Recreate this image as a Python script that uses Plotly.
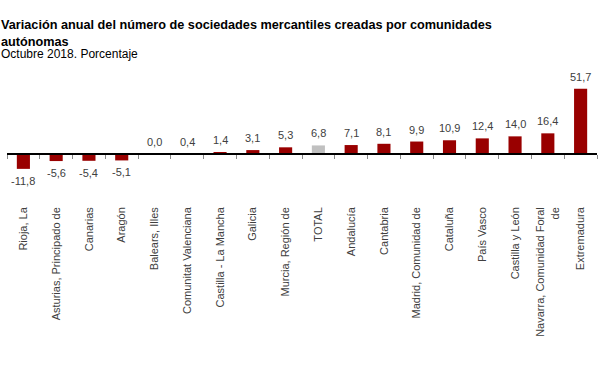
import plotly.graph_objects as go

categories = ["Rioja, La", "Asturias, Principado de", "Canarias", "Aragón", "Balears, Illes",
              "Comunitat Valenciana", "Castilla - La Mancha", "Galicia", "Murcia, Región de",
              "TOTAL", "Andalucía", "Cantabria", "Madrid, Comunidad de", "Cataluña",
              "País Vasco", "Castilla y León", "Navarra, Comunidad Foral<br>de", "Extremadura"]
values = [-11.8, -5.6, -5.4, -5.1, 0.0, 0.4, 1.4, 3.1, 5.3, 6.8, 7.1, 8.1, 9.9, 10.9, 12.4, 14.0, 16.4, 51.7]
labels = [f"{v:.1f}".replace(".", ",") for v in values]
colors = ["#c0c0c0" if c == "TOTAL" else "#990000" for c in categories]

W, H = 599, 381
L, R = 7, 2
top, bottom_px, zero_px = 85, 204, 154
scale = 1.26
ymax = (zero_px - top) / scale
ymin = -(bottom_px - zero_px) / scale
ph = bottom_px - top
pw = W - L - R
xrange_ = [-0.5, len(categories) - 0.5]


def py(px):
    return (bottom_px - px) / ph


def pxx(px):
    return (px - L) / pw


fig = go.Figure()
fig.add_trace(go.Bar(
    x=categories, y=values, marker_color=colors, width=0.4,
    hoverinfo="skip",
))
fig.add_trace(go.Scatter(
    x=categories, y=values, xaxis="x2", yaxis="y", mode="markers",
    marker=dict(opacity=0, size=1), hoverinfo="skip", showlegend=False,
))

for c, v, t in zip(categories, values, labels):
    neg = v < 0
    fig.add_annotation(x=c, y=v, xref="x", yref="y", text=t, showarrow=False,
                       yanchor="top" if neg else "bottom", yshift=-4 if neg else 4,
                       font=dict(family="Liberation Sans, Arial", size=11, color="#404040"))

fig.update_layout(
    template="none",
    width=W, height=H,
    margin=dict(l=L, r=R, t=top, b=H - bottom_px, pad=0),
    paper_bgcolor="white", plot_bgcolor="white",
    showlegend=False, bargap=0.6,
    font=dict(family="Liberation Sans, Arial", color="#404040"),
    xaxis=dict(type="category", categoryorder="array", categoryarray=categories,
               range=xrange_, autorange=False,
               showline=False, ticks="", tickangle=-90, showgrid=False, zeroline=False,
               automargin=False, tickfont=dict(size=11, color="#404040")),
    xaxis2=dict(type="category", categoryorder="array", categoryarray=categories,
                overlaying="x", matches="x", anchor="free", position=py(zero_px),
                showline=True, linecolor="black", linewidth=1.5, automargin=False,
                ticks="outside", tickson="boundaries", ticklen=4, tickcolor="#888888",
                showticklabels=False, showgrid=False, zeroline=False),
    yaxis=dict(range=[ymin, ymax], visible=False, showgrid=False, zeroline=False,
               automargin=False),
)

fig.add_annotation(xref="paper", yref="paper", x=pxx(-1), y=py(16),
                   xanchor="left", yanchor="top", showarrow=False, align="left",
                   text="<b>Variación anual del número de sociedades mercantiles creadas por comunidades<br>autónomas</b>",
                   font=dict(family="Liberation Sans, Arial", size=12.7, color="black"))
fig.add_annotation(xref="paper", yref="paper", x=pxx(-1), y=py(45),
                   xanchor="left", yanchor="top", showarrow=False, align="left",
                   text="Octubre 2018. Porcentaje",
                   font=dict(family="Liberation Sans, Arial", size=12, color="black"))

fig.write_html("out.html", config={"displayModeBar": False},
               post_script="document.body.style.margin='0';document.body.style.overflow='hidden';")
